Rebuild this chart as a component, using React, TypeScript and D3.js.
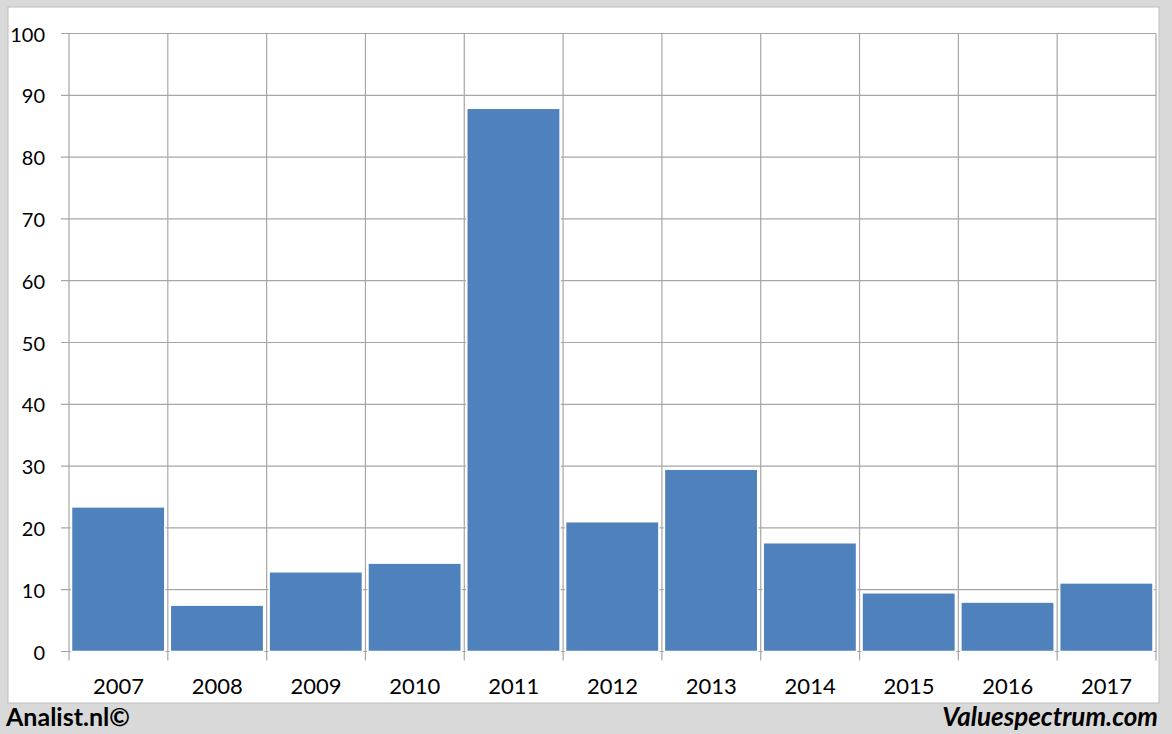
import * as d3 from "d3";

const years = ["2007", "2008", "2009", "2010", "2011", "2012", "2013", "2014", "2015", "2016", "2017"];
const values = [23.4, 7.5, 12.9, 14.3, 87.9, 21.0, 29.5, 17.6, 9.5, 8.0, 11.1];
const yTicks = [0, 10, 20, 30, 40, 50, 60, 70, 80, 90, 100];

const W = 1172;
const H = 734;
const left = 69;
const right = 1156;
const top = 33.5;
const bottom = 651.5;
const font = "Lato, 'Open Sans', sans-serif";

export default function App() {
  const x = d3.scaleBand().domain(years).range([left, right]).padding(0);
  const y = d3.scaleLinear().domain([0, 100]).range([bottom, top]);
  const bw = x.bandwidth();

  return (
    <svg width={W} height={H} style={{ position: "absolute", left: 0, top: 0 }}>
      <rect x={0} y={0} width={W} height={H} fill="#d9d9d9" />
      <rect x={8} y={7} width={1151} height={696} fill="#ffffff" stroke="#bdbdbd" strokeWidth={1} />

      {/* horizontal grid */}
      {yTicks.map((t) => (
        <g key={t}>
          <line x1={left - 8} x2={right} y1={y(t)} y2={y(t)} stroke="#a6a6a6" strokeWidth={1.2} />
          <text
            x={45}
            y={y(t)}
            textAnchor="end"
            dominantBaseline="central"
            fontFamily={font}
            fontSize={20}
            fill="#000"
          >
            {t}
          </text>
        </g>
      ))}

      {/* vertical grid */}
      {[...years.map((yr) => x(yr) as number), right].map((px, i) => (
        <line key={i} x1={px} x2={px} y1={top} y2={bottom + 9} stroke="#a6a6a6" strokeWidth={1.2} />
      ))}

      {/* bars */}
      {years.map((yr, i) => (
        <rect
          key={yr}
          x={(x(yr) as number) + 2.5}
          y={y(values[i])}
          width={bw - 5.5}
          height={bottom - y(values[i])}
          fill="#4f81bd"
          stroke="#ffffff"
          strokeWidth={1.5}
        />
      ))}

      {/* x labels */}
      {years.map((yr) => (
        <text
          key={yr}
          x={(x(yr) as number) + bw / 2}
          y={685}
          textAnchor="middle"
          dominantBaseline="central"
          fontFamily={font}
          fontSize={22}
          fill="#000"
        >
          {yr}
        </text>
      ))}

      <text x={6} y={726} fontFamily={font} fontSize={25} fontWeight="bold" fill="#000">
        Analist.nl©
      </text>
      <text
        x={1158}
        y={726}
        textAnchor="end"
        fontFamily={font}
        fontSize={26}
        fontWeight="bold"
        fontStyle="italic"
        fill="#000"
      >
        Valuespectrum.com
      </text>
    </svg>
  );
}
